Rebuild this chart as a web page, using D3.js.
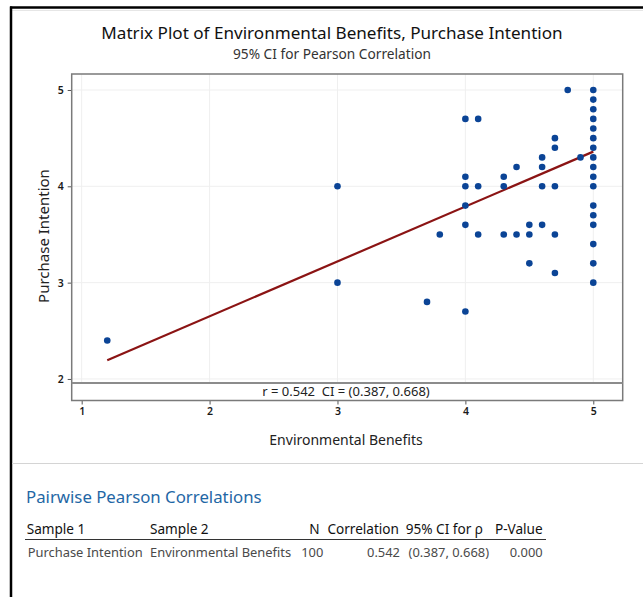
<!DOCTYPE html>
<html>
<head>
<meta charset="utf-8">
<script src="https://cdn.jsdelivr.net/npm/d3@7"></script>
<style>
  body { margin: 0; background: #fff; }
  svg { display: block; font-family: "Noto Sans", "Open Sans", sans-serif; }
</style>
</head>
<body>
<script>
// data (duplicates overlap, so fewer dots than N)
const environmentalBenefits = [1.2, 3.0, 3.0, 3.7, 3.8,
    4.0, 4.0, 4.0, 4.0, 4.0, 4.0,
    4.1, 4.1, 4.1,
    4.3, 4.3, 4.3,
    4.4, 4.4,
    4.5, 4.5, 4.5,
    4.6, 4.6, 4.6, 4.6,
    4.7, 4.7, 4.7, 4.7, 4.7,
    4.8, 4.9,
    5.0, 5.0, 5.0, 5.0, 5.0, 5.0, 5.0, 5.0, 5.0, 5.0, 5.0, 5.0, 5.0, 5.0, 5.0, 5.0, 5.0];
const purchaseIntention = [2.4, 4.0, 3.0, 2.8, 3.5,
    4.7, 4.1, 4.0, 3.8, 3.6, 2.7,
    4.7, 4.0, 3.5,
    4.1, 4.0, 3.5,
    4.2, 3.5,
    3.6, 3.5, 3.2,
    4.3, 4.2, 4.0, 3.6,
    4.5, 4.4, 4.0, 3.5, 3.1,
    5.0, 4.3,
    5.0, 4.9, 4.8, 4.7, 4.6, 4.5, 4.4, 4.3, 4.2, 4.1, 4.0, 3.8, 3.7, 3.6, 3.4, 3.2, 3.0];

const fitIntercept = 1.51;
const fitSlope = 0.57;

const xTicks = [1, 2, 3, 4, 5];
const yTicks = [2, 3, 4, 5];

const chartTitle = "Matrix Plot of Environmental Benefits, Purchase Intention";
const chartSubtitle = "95% CI for Pearson Correlation";
const corrLabel = "r = 0.542  CI = (0.387, 0.668)";

const tableTitle = "Pairwise Pearson Correlations";
const tableHeader = ["Sample 1", "Sample 2", "N", "Correlation", "95% CI for \u03c1", "P-Value"];
const tableRow = ["Purchase Intention", "Environmental Benefits", "100", "0.542", "(0.387, 0.668)", "0.000"];

const data = environmentalBenefits.map(function (d, i) {
    return { x: d, y: purchaseIntention[i] };
});

const W = 643, H = 597;
const plot = { left: 71.7, right: 622.7, top: 74, stripTop: 383, bottom: 400.5 };

const svg = d3.select("body").append("svg")
    .attr("width", W)
    .attr("height", H);

// window frame
svg.append("line").attr("x1", 10).attr("x2", W).attr("y1", 7.5).attr("y2", 7.5)
    .attr("stroke", "#000").attr("stroke-width", 2.5);
svg.append("line").attr("x1", 12).attr("x2", W).attr("y1", 10.5).attr("y2", 10.5)
    .attr("stroke", "#e6e6e6").attr("stroke-width", 1);
svg.append("line").attr("x1", 11).attr("x2", 11).attr("y1", 6.5).attr("y2", H)
    .attr("stroke", "#000").attr("stroke-width", 2.5);
svg.append("line").attr("x1", 12).attr("x2", W).attr("y1", 463.5).attr("y2", 463.5)
    .attr("stroke", "#d4d4d4").attr("stroke-width", 1.2);

// titles
svg.append("text")
    .attr("x", 332).attr("y", 39)
    .attr("text-anchor", "middle")
    .attr("font-size", 17.1)
    .attr("fill", "#111")
    .text(chartTitle);

svg.append("text")
    .attr("x", 332).attr("y", 59)
    .attr("text-anchor", "middle")
    .attr("font-size", 13.7)
    .attr("fill", "#333")
    .text(chartSubtitle);

const xScale = d3.scaleLinear()
    .domain([0.922, 5.23])
    .range([plot.left, plot.right]);

const yScale = d3.scaleLinear()
    .domain([1.958, 5.166])
    .range([plot.stripTop, plot.top]);

// gridlines
const grid = svg.append("g").attr("stroke", "#efefef").attr("stroke-width", 1);
grid.selectAll(".gx").data(xTicks).enter().append("line")
    .attr("x1", function (d) { return xScale(d); })
    .attr("x2", function (d) { return xScale(d); })
    .attr("y1", plot.top)
    .attr("y2", plot.stripTop);
grid.selectAll(".gy").data(yTicks).enter().append("line")
    .attr("x1", plot.left)
    .attr("x2", plot.right)
    .attr("y1", function (d) { return yScale(d); })
    .attr("y2", function (d) { return yScale(d); });

// axes
const xAxis = svg.append("g")
    .attr("transform", "translate(0," + plot.bottom + ")")
    .call(d3.axisBottom(xScale).tickValues(xTicks).tickFormat(d3.format("d")).tickSize(4).tickPadding(3));

const yAxis = svg.append("g")
    .attr("transform", "translate(" + plot.left + ",0)")
    .call(d3.axisLeft(yScale).tickValues(yTicks).tickFormat(d3.format("d")).tickSize(4).tickPadding(4));

[xAxis, yAxis].forEach(function (a) {
    a.select(".domain").remove();
    a.selectAll(".tick line").attr("stroke", "#555");
    a.selectAll(".tick text")
        .attr("font-family", "\"Noto Sans\", sans-serif")
        .attr("font-size", 10.5)
        .attr("font-weight", 600)
        .attr("fill", "#1a1a1a");
});

// regression line
const xMin = d3.min(environmentalBenefits), xMax = d3.max(environmentalBenefits);
const fitLine = d3.line()
    .x(function (d) { return xScale(d); })
    .y(function (d) { return yScale(fitIntercept + fitSlope * d); });

svg.append("path")
    .datum([xMin, xMax])
    .attr("d", fitLine)
    .attr("fill", "none")
    .attr("stroke", "#8b1414")
    .attr("stroke-width", 2.2);

// points
svg.append("g").selectAll("circle")
    .data(data)
    .enter().append("circle")
    .attr("cx", function (d) { return xScale(d.x); })
    .attr("cy", function (d) { return yScale(d.y); })
    .attr("r", 3.3)
    .attr("fill", "#0b4496");

// plot box + strip
svg.append("rect")
    .attr("x", plot.left).attr("y", plot.top)
    .attr("width", plot.right - plot.left)
    .attr("height", plot.bottom - plot.top)
    .attr("fill", "none")
    .attr("stroke", "#7a7a7a")
    .attr("stroke-width", 1.5);
svg.append("line")
    .attr("x1", plot.left).attr("x2", plot.right)
    .attr("y1", plot.stripTop).attr("y2", plot.stripTop)
    .attr("stroke", "#8c8c8c").attr("stroke-width", 2);

svg.append("text")
    .attr("x", 346).attr("y", 396)
    .attr("text-anchor", "middle")
    .attr("font-size", 13)
    .attr("fill", "#222")
    .style("white-space", "pre")
    .text(corrLabel);

// axis titles
svg.append("text")
    .attr("x", 346).attr("y", 445)
    .attr("text-anchor", "middle")
    .attr("font-size", 14)
    .attr("fill", "#222")
    .text("Environmental Benefits");

svg.append("text")
    .attr("transform", "translate(49,236) rotate(-90)")
    .attr("text-anchor", "middle")
    .attr("font-size", 15)
    .attr("fill", "#222")
    .text("Purchase Intention");

// correlation table
svg.append("text")
    .attr("x", 26).attr("y", 503)
    .attr("font-size", 16.8)
    .attr("fill", "#1f67a5")
    .text(tableTitle);

const headerPos = [[26.7, "start"], [150, "start"], [319.5, "end"], [399, "end"], [483, "end"], [542.7, "end"]];
const rowPos = [[27.7, "start"], [150, "start"], [323.3, "end"], [400, "end"], [489, "end"], [542.7, "end"]];

svg.append("g").selectAll("text")
    .data(tableHeader)
    .enter().append("text")
    .attr("x", function (d, i) { return headerPos[i][0]; })
    .attr("y", 534)
    .attr("text-anchor", function (d, i) { return headerPos[i][1]; })
    .attr("font-size", 13.6)
    .attr("fill", "#111")
    .text(function (d) { return d; });

svg.append("line")
    .attr("x1", 25).attr("x2", 546)
    .attr("y1", 539.5).attr("y2", 539.5)
    .attr("stroke", "#333").attr("stroke-width", 1.2);

svg.append("g").selectAll("text")
    .data(tableRow)
    .enter().append("text")
    .attr("x", function (d, i) { return rowPos[i][0]; })
    .attr("y", 557)
    .attr("text-anchor", function (d, i) { return rowPos[i][1]; })
    .attr("font-size", 12.9)
    .attr("fill", "#4a4a4a")
    .text(function (d) { return d; });
</script>
</body>
</html>
